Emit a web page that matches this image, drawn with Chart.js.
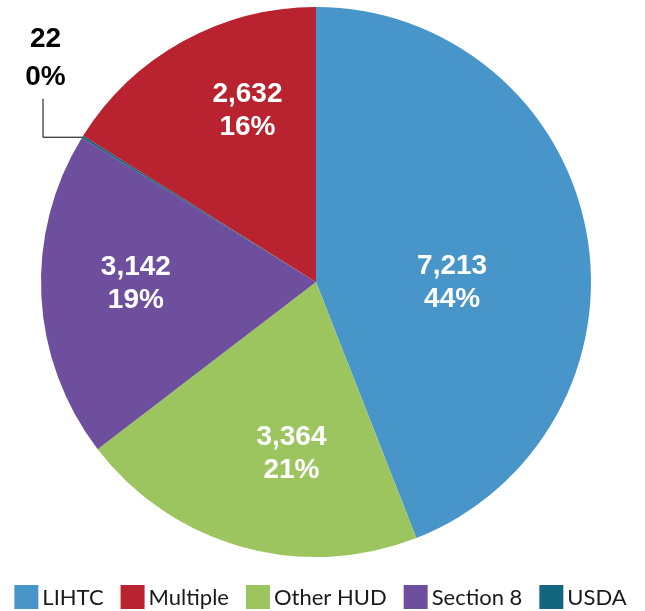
<!DOCTYPE html>
<html>
<head>
<meta charset="utf-8">
<script src="https://cdn.jsdelivr.net/npm/chart.js@4.4.1/dist/chart.umd.min.js"></script>
<style>
  html, body { margin: 0; padding: 0; background: #ffffff; }
  #wrap { position: relative; width: 645px; height: 611px; }
</style>
</head>
<body>
<div id="wrap"><canvas id="c"></canvas></div>
<script>
// ---- data ----
const categories = ['LIHTC', 'Other HUD', 'Section 8', 'USDA', 'Multiple'];
const units = [7213, 3364, 3142, 22, 2632];
const legendOrder = ['LIHTC', 'Multiple', 'Other HUD', 'Section 8', 'USDA'];

// ---- styles ----
const sliceColors = ['#4895CA', '#9DC55F', '#6E4F9D', '#14657F', '#B9232F'];
// label placement inside each slice: [fraction of slice angle, fraction of radius]; null = outside with leader
const labelPlacement = [[0.569, 0.495], [0.40, 0.628], [0.537, 0.655], null, [0.625, 0.674]];

const total = units.reduce((a, b) => a + b, 0);
const fmt = v => v.toLocaleString('en-US');
const pct = v => Math.round(v / total * 100) + '%';

const labelPlugin = {
  id: 'sliceLabels',
  afterDatasetsDraw(chart) {
    const ctx = chart.ctx;
    const meta = chart.getDatasetMeta(0);
    ctx.save();
    meta.data.forEach((arc, i) => {
      const v = units[i];
      const place = labelPlacement[i];
      const { x, y, startAngle, endAngle, outerRadius } = arc.getProps(['x', 'y', 'startAngle', 'endAngle', 'outerRadius'], true);
      if (place) {
        const a = startAngle + (endAngle - startAngle) * place[0];
        const r = outerRadius * place[1];
        const cx = x + Math.cos(a) * r;
        const cy = y + Math.sin(a) * r;
        ctx.fillStyle = '#ffffff';
        ctx.font = 'bold 28px "Liberation Sans", Arial, sans-serif';
        ctx.textAlign = 'center';
        ctx.textBaseline = 'middle';
        ctx.fillText(fmt(v), cx, cy - 16);
        ctx.fillText(pct(v), cx, cy + 17);
      } else {
        const a = (startAngle + endAngle) / 2;
        const px = x + Math.cos(a) * outerRadius;
        const py = y + Math.sin(a) * outerRadius;
        const elbowX = px - 40;
        const topY = py - 38;
        ctx.strokeStyle = '#000000';
        ctx.lineWidth = 1;
        ctx.beginPath();
        ctx.moveTo(px, py + 0.5);
        ctx.lineTo(elbowX + 0.5, py + 0.5);
        ctx.lineTo(elbowX + 0.5, topY);
        ctx.stroke();
        ctx.fillStyle = '#000000';
        ctx.font = 'bold 28px "Liberation Sans", Arial, sans-serif';
        ctx.textAlign = 'center';
        ctx.textBaseline = 'middle';
        ctx.fillText(fmt(v), elbowX + 3, topY - 59);
        ctx.fillText(pct(v), elbowX + 3, topY - 21);
      }
    });
    ctx.restore();
  }
};

const legendPlugin = {
  id: 'bottomLegend',
  afterDraw(chart) {
    const ctx = chart.ctx;
    const box = 24, gapText = 4, gapItem = 17;
    const font = '22px "Lato", sans-serif';
    ctx.save();
    ctx.font = font;
    const widths = legendOrder.map(t => box + gapText + ctx.measureText(t).width);
    const totalW = widths.reduce((a, b) => a + b, 0) + gapItem * (legendOrder.length - 1);
    let x = 320.5 - totalW / 2;
    const midY = chart.height - 14;
    legendOrder.forEach((t, k) => {
      const idx = categories.indexOf(t);
      ctx.fillStyle = sliceColors[idx];
      ctx.fillRect(x, midY - box / 2, box, box);
      ctx.fillStyle = '#1a1a1a';
      ctx.textAlign = 'left';
      ctx.textBaseline = 'middle';
      ctx.fillText(t, x + box + gapText, midY + 1);
      x += widths[k] + gapItem;
    });
    ctx.restore();
  }
};

new Chart(document.getElementById('c'), {
  type: 'pie',
  data: {
    labels: categories,
    datasets: [{
      data: units,
      backgroundColor: sliceColors,
      borderWidth: 0
    }]
  },
  options: {
    responsive: true,
    maintainAspectRatio: false,
    animation: false,
    layout: { padding: { top: 7, bottom: 54, left: 0, right: 13 } },
    plugins: {
      legend: { display: false },
      tooltip: { enabled: false }
    }
  },
  plugins: [labelPlugin, legendPlugin]
});
</script>
</body>
</html>
